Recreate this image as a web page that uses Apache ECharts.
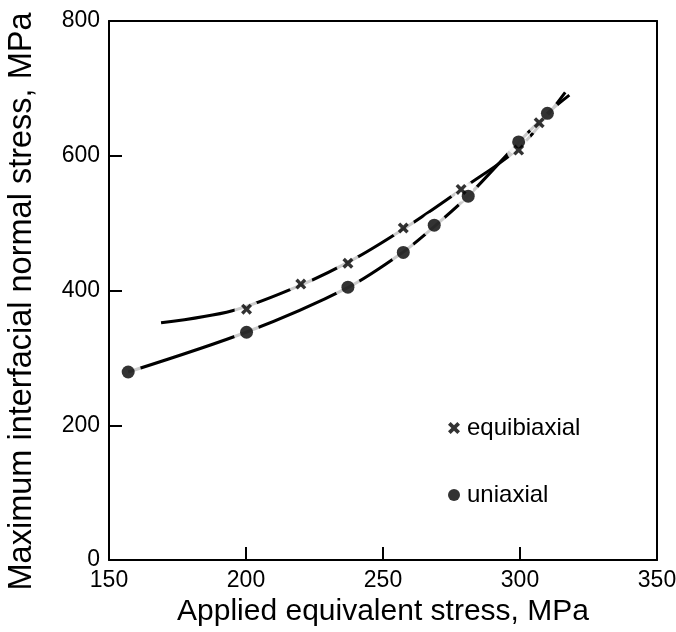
<!DOCTYPE html>
<html>
<head>
<meta charset="utf-8">
<script src="https://cdn.jsdelivr.net/npm/echarts@6/dist/echarts.min.js"></script>
<style>
html,body{margin:0;padding:0;background:#fff;}
#chart{width:676px;height:632px;}
</style>
</head>
<body>
<div id="chart"></div>
<script>
// Data
var xTicks = [150, 200, 250, 300, 350];
var yTicks = [0, 200, 400, 600, 800];

var equiX = [200.2, 220.0, 237.2, 257.4, 278.5, 299.5, 307.0];
var equiY = [372.3, 409.5, 440.4, 492.8, 550.0, 608.4, 649.0];
var uniX  = [157.0, 200.2, 237.2, 257.4, 268.7, 281.1, 299.5, 310.0];
var uniY  = [279.0, 338.0, 405.0, 456.5, 497.0, 540.0, 620.5, 663.0];

// fitted curves as drawn in the picture
var equiCurveX = [169.0, 195.0, 220.0, 240.0, 260.0, 280.0, 300.0, 316.5];
var equiCurveY = [352.0, 370.0, 408.0, 448.0, 498.0, 554.0, 613.0, 694.0];
var uniCurveX  = [157.0, 200.0, 237.0, 257.0, 269.0, 281.0, 299.5, 310.0, 318.0];
var uniCurveY  = [279.0, 338.0, 404.0, 456.0, 496.0, 540.0, 620.0, 663.0, 690.0];

var legendNames = ['equibiaxial', 'uniaxial'];

var crossPath = 'path://M2.2,0 L5,2.8 L7.8,0 L10,2.2 L7.2,5 L10,7.8 L7.8,10 L5,7.2 L2.2,10 L0,7.8 L2.8,5 L0,2.2 Z';

function pairs(xs, ys) { return xs.map(function (x, i) { return [x, ys[i]]; }); }

var equiPts = pairs(equiX, equiY);
var uniPts = pairs(uniX, uniY);
var equiCurve = pairs(equiCurveX, equiCurveY);
var uniCurve = pairs(uniCurveX, uniCurveY);

var font = 'Liberation Sans, Arial, Helvetica, sans-serif';

var chart = echarts.init(document.getElementById('chart'), null, {renderer: 'canvas'});
var option = {
  backgroundColor: '#fff',
  animation: false,
  textStyle: {fontFamily: font, color: '#000'},
  grid: {left: 109, right: 19, top: 21, bottom: 72, containLabel: false, outerBoundsMode: 'none'},
  legend: {
    orient: 'vertical',
    left: 443, top: 411,
    itemWidth: 12, itemHeight: 12,
    itemGap: 43,
    textStyle: {fontFamily: font, fontSize: 24, color: '#000', padding: [0, 0, 0, 2]},
    data: [
      {name: legendNames[0], icon: crossPath, itemStyle: {color: '#000'}},
      {name: legendNames[1], icon: 'circle', itemStyle: {color: '#000'}}
    ]
  },
  xAxis: [{
    type: 'value', min: xTicks[0], max: xTicks[xTicks.length - 1], interval: 50,
    name: 'Applied equivalent stress, MPa', nameLocation: 'middle', nameGap: 37,
    nameTextStyle: {fontFamily: font, fontSize: 30, color: '#000'},
    axisLine: {show: true, onZero: false, lineStyle: {color: '#000', width: 2}},
    axisTick: {show: true, inside: true, length: 13, lineStyle: {color: '#000', width: 2}},
    axisLabel: {fontFamily: font, fontSize: 23, color: '#000', margin: 9},
    splitLine: {show: false}
  }, {
    type: 'value', position: 'top', min: 150, max: 350,
    axisLine: {show: true, onZero: false, lineStyle: {color: '#000', width: 2}},
    axisTick: {show: false}, axisLabel: {show: false}, splitLine: {show: false}
  }],
  yAxis: [{
    type: 'value', min: yTicks[0], max: yTicks[yTicks.length - 1], interval: 200,
    name: 'Maximum interfacial normal stress, MPa', nameLocation: 'middle', nameGap: 70,
    nameTextStyle: {fontFamily: font, fontSize: 32.5, color: '#000', padding: [0, 22, 0, 0]},
    axisLine: {show: true, onZero: false, lineStyle: {color: '#000', width: 2}},
    axisTick: {show: true, inside: true, length: 13, lineStyle: {color: '#000', width: 2}},
    axisLabel: {fontFamily: font, fontSize: 23, color: '#000', margin: 9},
    splitLine: {show: false}
  }, {
    type: 'value', position: 'right', min: 0, max: 800,
    axisLine: {show: true, onZero: false, lineStyle: {color: '#000', width: 2}},
    axisTick: {show: false}, axisLabel: {show: false}, splitLine: {show: false}
  }],
  series: [
    {name: 'equiCurve', type: 'line', data: equiCurve, smooth: 0.3, showSymbol: false, symbol: 'none',
     lineStyle: {color: '#000', width: 3}, z: 2, silent: true},
    {name: 'uniCurve', type: 'line', data: uniCurve, smooth: 0.3, showSymbol: false, symbol: 'none',
     lineStyle: {color: '#000', width: 3}, z: 2, silent: true},
    {name: 'gapE', type: 'scatter', data: equiPts, symbol: 'circle', symbolSize: 24,
     itemStyle: {color: '#fff'}, z: 3, silent: true},
    {name: 'gapU', type: 'scatter', data: uniPts, symbol: 'circle', symbolSize: 26,
     itemStyle: {color: '#fff'}, z: 3, silent: true},
    {name: legendNames[0], type: 'scatter', data: equiPts, symbol: crossPath, symbolSize: 11,
     itemStyle: {color: '#000'}, z: 4},
    {name: legendNames[1], type: 'scatter', data: uniPts, symbol: 'circle', symbolSize: 13,
     itemStyle: {color: '#000'}, z: 4}
  ]
};
chart.setOption(option);
</script>
</body>
</html>
